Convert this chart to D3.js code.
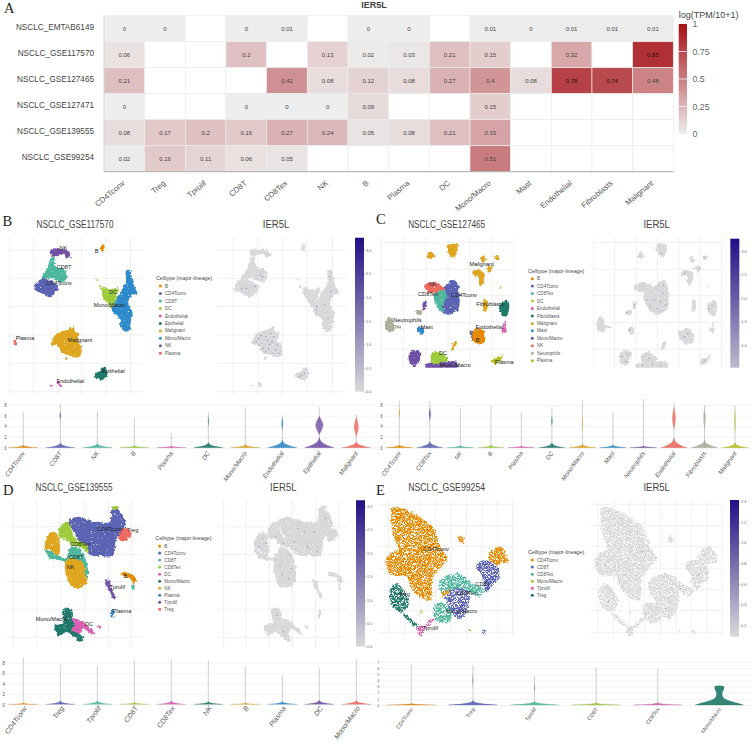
<!DOCTYPE html>
<html><head><meta charset="utf-8">
<script src="https://cdn.jsdelivr.net/npm/d3@7"></script>
<style>html,body{margin:0;padding:0;background:#fff}svg{display:block}text{font-family:"Liberation Sans",Arial,sans-serif}</style>
</head><body><svg id="c" width="753" height="742"></svg>
<script>
// ---------- Panel A: heatmap ----------
const heatCols=["CD4Tconv","Treg","Tprolif","CD8T","CD8Tex","NK","B","Plasma","DC","Mono/Macro","Mast","Endothelial","Fibroblasts","Malignant"];
const heatRows=["NSCLC_EMTAB6149","NSCLC_GSE117570","NSCLC_GSE127465","NSCLC_GSE127471","NSCLC_GSE139555","NSCLC_GSE99254"];
const heatEMTAB=[0,0,null,0,0.01,null,0,0,null,0.01,0,0.01,0.01,0.01];
const heat117570=[0.06,null,null,0.2,null,0.13,0.02,0.03,0.21,0.15,null,0.32,null,0.85];
const heat127465=[0.21,null,null,null,0.42,0.08,0.12,0.08,0.27,0.4,0.08,0.78,0.74,0.48];
const heat127471=[0,null,null,0,0,0,0.09,null,null,0.15,null,null,null,null];
const heat139555=[0.08,0.17,0.2,0.16,0.27,0.24,0.05,0.08,0.21,0.33,null,null,null,null];
const heat99254=[0.02,0.16,0.11,0.06,0.05,null,null,null,null,0.51,null,null,null,null];
const heatTicks=[0,0.25,0.5,0.75,1];

// ---------- Shared ----------
const palette=["#E68A00","#5B63B5","#4DB89E","#9CCB3C","#DA5FB3","#1F7A6B","#E0A51E","#2E8BCB","#7350A8","#EE6A60","#A9AD9A","#B5BF1F"];

// ---------- Panel B ----------
const legendB=["B","CD4Tconv","CD8T","DC","Endothelial","Epithelial","Malignant","Mono/Macro","NK","Plasma"];
const umapB=[
["CD8T",[[155,155],[165,160],[165,180],[175,190],[190,190],[200,205],[198,225],[185,232],[165,225],[150,220],[130,225],[125,215],[140,195],[148,170]]],
["NK",[[150,137],[165,130],[180,135],[195,133],[210,145],[212,155],[200,158],[190,150],[178,148],[165,155],[152,150]]],
["CD4Tconv",[[105,240],[125,222],[150,225],[170,240],[178,240],[168,262],[150,277],[125,265],[105,255]]],
["B",[[303,120],[310,118],[313,130],[308,140],[302,135]]],
["Mono/Macro",[[378,198],[390,195],[395,215],[405,250],[412,265],[395,272],[385,295],[398,325],[392,350],[392,370],[380,380],[362,368],[360,340],[340,325],[335,305],[345,290],[365,255],[378,230]]],
["DC",[[310,245],[330,255],[355,250],[350,275],[335,310],[320,290],[308,275]]],
["DC",[[290,220],[294,220],[294,226],[290,226]]],
["DC",[[297,241],[303,241],[304,249],[298,249]]],
["Malignant",[[165,390],[180,380],[200,375],[215,365],[222,362],[225,380],[235,385],[232,405],[245,430],[243,450],[230,458],[210,450],[190,445],[170,420],[155,420]]],
["Malignant",[[195,456],[201,456],[200,463],[195,463]]],
["Plasma",[[41,407],[47,405],[50,420],[45,423],[41,415]]],
["Epithelial",[[285,505],[300,500],[305,488],[318,490],[322,510],[310,525],[295,522],[283,515]]],
["Endothelial",[[172,530],[178,532],[187,545],[180,545]]],
["Endothelial",[[148,540],[158,540],[155,546],[150,546]]]];
const labelsB=[["NK",190,130],["B",290,137],["CD8T",192,187],["CD4Tconv",177,233],["Mono/Macro",328,300],["DC",340,260],["Plasma",75,400],["Malignant",240,406],["Epithelial",340,497],["Endothelial",211,529]];
const gridXB=[28,100,173,245,318,392], gridYB=[135,220,305,390,475,560];
const spotsB=[[175,400],[185,415],[195,395],[205,430],[215,410],[225,435],[190,430],[210,385],[178,420],[235,445],[200,405],[220,395],[168,410],[230,420],[215,445],[195,440],[182,392],[208,418],[345,305],[380,340],[388,260],[370,300],[395,350],[345,315],[385,215],[180,210],[187,215],[140,250],[165,245],[125,250],[300,510],[310,505],[295,515]];
const vCatsB=["CD4Tconv","CD8T","NK","B","Plasma","DC","Mono/Macro","Endothelial","Epithelial","Malignant"];
const vMaxB=[6.75,8.2,6.9,5.7,2.7,6.75,7.6,6,7.6,6.25];
const vHumpB=[0.35,0.7,0.6,0.3,0.25,0.75,0.45,1.1,1.5,0.9];
const vBulgeB=[null,[6,2.5,0.8],null,null,null,[5,1.5,1],null,[4.5,2.5,1.4],[4.2,13,1.8],[3.9,8,1.9]];
const vTicksB=[0,2,4,6,8];
const cbTicksB=[0,0.5,1,1.5,2,2.5,3];

// ---------- Panel C ----------
const legendC=["B","CD4Tconv","CD8Tex","DC","Endothelial","Fibroblasts","Malignant","Mast","Mono/Macro","NK","Neutrophils","Plasma"];
const umapC=[
["Malignant",[[213,120],[228,117],[245,120],[243,145],[230,157],[218,145]]],
["Malignant",[[153,150],[165,140],[178,155],[165,158],[153,158]]],
["Malignant",[[316,158],[325,153],[330,170],[318,172]]],
["Malignant",[[355,158],[365,152],[372,160],[360,165]]],
["Malignant",[[335,185],[350,183],[345,200],[335,198]]],
["Malignant",[[290,198],[305,195],[325,205],[318,240],[308,240],[308,215],[292,212]]],
["Malignant",[[372,245],[378,245],[378,251],[372,250]]],
["Malignant",[[325,280],[335,300],[330,320],[322,318],[322,295]]],
["Malignant",[[226,425],[240,408],[243,412],[232,436]]],
["NK",[[145,240],[170,232],[195,240],[208,255],[185,262],[160,262],[143,250]]],
["CD8Tex",[[175,265],[205,255],[220,265],[205,300],[205,325],[190,315],[178,295]]],
["CD4Tconv",[[205,250],[232,225],[245,235],[250,270],[248,310],[225,328],[205,325],[200,300],[215,270]]],
["Neutrophils",[[118,320],[135,313],[135,330],[122,330]]],
["Mono/Macro",[[140,295],[150,285],[148,310],[143,315]]],
["Fibroblasts",[[370,300],[395,287],[400,305],[390,335],[375,325]]],
["Neutrophils",[[28,350],[40,335],[50,345],[55,375],[45,382],[30,372]]],
["Neutrophils",[[55,360],[75,366],[75,370],[55,366]]],
["Mast",[[125,370],[138,365],[145,380],[135,390],[127,382]]],
["CD4Tconv",[[280,378],[292,380],[300,400],[290,405]]],
["B",[[290,380],[305,368],[320,375],[328,400],[320,415],[300,418],[290,400]]],
["Endothelial",[[377,370],[390,368],[392,380],[380,383]]],
["Endothelial",[[386,350],[389,350],[388,370],[386,370]]],
["Mono/Macro",[[100,445],[118,435],[135,445],[130,470],[115,483],[100,470]]],
["Mono/Macro",[[150,478],[190,470],[245,472],[245,492],[150,492]]],
["DC",[[165,450],[190,440],[215,465],[190,475],[170,475]]],
["Plasma",[[350,462],[368,458],[382,445],[375,465],[358,478],[349,475]]]];
const labelsC=[["Malignant",317,177],["NK",170,236],["CD8Tex",156,268],["CD4Tconv",264,269],["Fibroblasts",342,296],["Neutrophils",94,344],["Mast",152,365],["Endothelial",340,365],["B",305,405],["DC",201,443],["Mono/Macro",238,480],["Plasma",385,470]];
const gridXC=[17,83,150,216,282,348,414], gridYC=[112,193,272,352,432];
const spotsC=[[205,285],[225,290],[232,265],[215,310],[240,300],[180,285],[195,300],[235,240],[105,455],[118,470],[122,448],[170,480],[200,478],[225,480],[300,395],[310,385],[375,310],[385,300],[330,190],[345,190],[228,145],[300,205],[360,158],[130,375],[120,322],[145,300],[360,468],[190,460]];
const vCatsC=["CD4Tconv","CD8Tex","NK","B","Plasma","DC","Mono/Macro","Mast","Neutrophils","Endothelial","Fibroblasts","Malignant"];
const vMaxC=[8.8,8.75,7.5,7.75,6.6,7.6,8.9,6.75,9.1,8.5,8,7.9];
const vHumpC=[0.4,0.9,0.3,0.35,0.25,0.7,0.5,0.4,0.25,1.4,1.1,0.7];
const vBulgeC=[[6.5,1.5,1],[6.3,3.5,1.3],null,null,null,[5,2,1],[4.5,1.5,1.5],null,null,[5.5,6,2.2],[5.5,4,2],[5,2,2.5]];
const vTicksC=[0,2,4,6,8];
const cbTicksC=[1,1.5,2,2.5,3];

// ---------- Panel D ----------
const legendD=["B","CD4Tconv","CD8T","CD8Tex","DC","Mono/Macro","NK","Plasma","Tprolif","Treg"];
const umapD=[
["CD4Tconv",[[205,140],[235,125],[270,135],[330,140],[335,100],[355,105],[375,135],[372,170],[350,190],[340,240],[300,243],[270,240],[250,215],[225,180],[215,160]]],
["Treg",[[360,170],[378,160],[395,175],[380,195],[362,198],[357,190]]],
["CD8Tex",[[337,97],[355,93],[358,100],[340,105]]],
["CD8Tex",[[180,155],[205,140],[215,165],[225,190],[260,210],[265,235],[245,220],[215,210],[200,195],[178,185]]],
["CD8T",[[135,222],[150,228],[175,240],[195,250],[215,215],[245,230],[260,260],[262,310],[235,290],[200,260],[175,255],[150,250]]],
["NK",[[135,205],[150,172],[170,175],[180,215],[175,240],[150,225],[135,220]]],
["NK",[[195,260],[210,250],[250,265],[255,300],[262,320],[240,338],[215,335],[203,315]]],
["B",[[362,293],[385,293],[408,310],[400,330],[390,310],[365,300]]],
["CD8T",[[395,330],[403,330],[402,344],[397,342]]],
["Tprolif",[[315,313],[328,317],[335,345],[347,365],[340,372],[330,350],[318,330]]],
["Plasma",[[335,405],[340,405],[340,428],[333,430]]],
["Mono/Macro",[[187,405],[205,398],[218,410],[220,430],[240,440],[222,458],[250,490],[240,500],[215,480],[200,470],[178,482],[165,465],[165,450],[190,440]]],
["DC",[[215,430],[240,435],[260,450],[285,475],[278,478],[250,462],[240,475],[215,465],[225,450]]],
["DC",[[290,452],[305,455],[300,460],[292,458]]]];
const labelsD=[["CD4Tconv",330,162],["Treg",398,165],["CD8Tex",240,207],["CD8T",228,247],["NK",212,276],["B",376,302],["Tprolif",352,337],["Plasma",366,407],["Mono/Macro",154,431],["DC",267,446]];
const gridXD=[40,110,182,253,325,395], gridYD=[155,238,320,403,487];
const spotsD=[[200,185],[225,205],[170,205],[150,215],[200,240],[245,240],[220,300],[240,310],[250,280],[260,200],[300,215],[320,170],[355,130],[270,160],[205,420],[225,470],[290,170],[330,230],[160,190],[215,270]];
const vCatsD=["CD4Tconv","Treg","Tprolif","CD8T","CD8Tex","NK","B","Plasma","DC","Mono/Macro"];
const vMaxD=[9,7.55,7.35,8.4,8.6,8.45,7.4,5.6,7,8.6];
const vHumpD=[0.2,0.5,0.5,0.3,0.5,0.4,0.2,0.4,0.6,0.55];
const vBulgeD=[null,null,null,null,null,null,null,null,null,null];
const vTicksD=[0,2,4,6,8];
const cbTicksD=[0,0.5,1,1.5,2,2.5,3];

// ---------- Panel E ----------
const legendE=["CD4Tconv","CD8T","CD8Tex","Mono/Macro","Tprolif","Treg"];
const umapE=[
["CD4Tconv",[[50,97],[70,97],[105,110],[130,125],[170,155],[185,185],[195,220],[215,250],[190,280],[170,310],[165,375],[135,370],[105,340],[90,305],[45,300],[28,265],[40,235],[65,225],[50,175],[45,130]]],
["CD4Tconv",[[340,235],[375,215],[390,235],[395,262],[375,265],[365,270],[340,255]]],
["CD4Tconv",[[248,185],[260,183],[265,205],[255,207]]],
["CD8T",[[305,262],[330,255],[365,275],[370,310],[350,330],[335,350],[325,340],[315,295],[300,280]]],
["CD8Tex",[[190,320],[245,295],[290,325],[325,345],[310,365],[280,350],[225,345],[195,350]]],
["CD8T",[[210,355],[250,340],[280,355],[265,425],[245,432],[225,410],[210,380]]],
["CD8Tex",[[175,390],[210,385],[225,410],[225,435],[195,445],[175,425]]],
["CD4Tconv",[[195,355],[220,345],[215,360],[200,365]]],
["Treg",[[42,345],[60,325],[90,355],[100,385],[75,412],[50,395],[42,375]]],
["Treg",[[80,418],[84,416],[132,458],[128,462]]],
["Tprolif",[[125,460],[140,450],[145,465],[135,485],[125,478]]],
["Tprolif",[[173,428],[177,432],[140,465],[136,461]]],
["Mono/Macro",[[133,407],[139,407],[138,415],[133,415]]],
["Mono/Macro",[[279,466],[285,466],[285,471],[279,471]]],
["CD8T",[[319,465],[328,466],[328,477],[320,476]]]];
const labelsE=[["CD4Tconv",180,221],["CD8T",320,328],["CD8Tex",272,353],["Mono/Macro",257,407],["Treg",85,357],["Tprolif",163,458]];
const gridXE=[38,85,132,178,225,272,318,365,410], gridYE=[88,152,215,280,343,406,472];
const spotsE=[[250,370],[120,300],[60,270],[170,230],[90,150],[70,380],[240,400],[340,300],[200,420],[285,340]];
const vCatsE=["CD4Tconv","Treg","Tprolif","CD8T","CD8Tex","Mono/Macro"];
const vMaxE=[6.6,6.5,4.6,6.1,5.9,3.1];
const vHumpE=[0.2,0.55,0.45,0.3,0.3,0.9];
const vBulgeE=[null,[4,1.2,1.2],[2.8,2,0.7],null,null,null];
const vProfileEMono=[[0,73],[0.3,55],[0.7,28],[1.1,12],[1.6,8],[2.1,9],[2.6,14],[3.1,16],[3.15,0]];
const vTicksE=[0,1,2,3,4,5,6,7];
const cbTicksE=[0.2,0.4,0.6,0.8,1,1.2,1.4];

const svg=d3.select("#c");
const defs=svg.append("defs");
function grainFilter(id,k,c,freq,blur){
  const f=defs.append("filter").attr("id",id).attr("x","-5%").attr("y","-5%").attr("width","110%").attr("height","110%")
    .attr("color-interpolation-filters","sRGB");
  f.append("feTurbulence").attr("type","fractalNoise").attr("baseFrequency",0.35).attr("numOctaves",2).attr("seed",3).attr("result","n");
  f.append("feDisplacementMap").attr("in","SourceGraphic").attr("in2","n").attr("scale",4).attr("xChannelSelector","R").attr("yChannelSelector","G").attr("result","d");
  f.append("feTurbulence").attr("type","fractalNoise").attr("baseFrequency",freq).attr("numOctaves",1).attr("seed",8).attr("result","m");
  f.append("feColorMatrix").attr("in","m").attr("type","matrix").attr("values",`0 0 0 0 0 0 0 0 0 0 0 0 0 0 0 0 0 0 ${k} ${c}`).attr("result","t");
  f.append("feComposite").attr("in","d").attr("in2","t").attr("operator","in").attr("result","o");
  f.append("feGaussianBlur").attr("in","o").attr("stdDeviation",blur);
}
grainFilter("grain",10,-2.2,1.3,0.3);
grainFilter("grainSparse",7,-2.6,1.9,0.35);
grainFilter("grainFeature",6,-1.2,1.3,0.35);
grainFilter("grainFeatureSparse",5,-1.7,1.9,0.4);

// ---------- Heatmap drawing ----------
const heatVals=[heatEMTAB,heat117570,heat127465,heat127471,heat139555,heat99254];
const hx=d3.scaleBand().domain(heatCols).range([104,673.3]);
const hy=d3.scaleBand().domain(heatRows).range([15.7,171.7]);
const hc=d3.scaleLinear().domain([0,1]).range(["#eeeeee","#a50f15"]);
const hA=svg.append("g");
hA.append("text").attr("x",4).attr("y",13).text("A").attr("font-size",14.5).style("font-family","'Liberation Serif',serif").attr("fill","#222");
hA.append("text").attr("x",374).attr("y",8).attr("text-anchor","middle").attr("font-size",9).attr("font-weight","bold").attr("fill","#444").text("IER5L");
heatRows.forEach((r,i)=>heatCols.forEach((c,j)=>{
  const v=heatVals[i][j];
  hA.append("rect").attr("x",hx(c)).attr("y",hy(r)).attr("width",hx.bandwidth()).attr("height",hy.bandwidth())
    .attr("fill",v===null?"#fff":hc(v)).attr("stroke","#ececec").attr("stroke-width",0.7);
  if(v!==null) hA.append("text").attr("x",hx(c)+hx.bandwidth()/2).attr("y",hy(r)+hy.bandwidth()/2+2.2).attr("text-anchor","middle")
    .attr("font-size",6).attr("fill",v>0.6?"#2a1012":"#444").text(v);
}));
hA.append("line").attr("x1",104).attr("x2",673.3).attr("y1",171.7).attr("y2",171.7).attr("stroke","#999").attr("stroke-width",0.8);
hA.append("line").attr("x1",104).attr("x2",104).attr("y1",15.7).attr("y2",171.7).attr("stroke","#ccc").attr("stroke-width",0.7);
heatRows.forEach(r=>hA.append("text").attr("x",94).attr("y",hy(r)+hy.bandwidth()/2+1.5).attr("text-anchor","end").attr("font-size",8.2).attr("fill","#444").text(r));
heatCols.forEach(c=>{const x=hx(c)+hx.bandwidth()/2+1;
  hA.append("text").attr("transform",`translate(${x},184) rotate(-40)`).attr("text-anchor","end").attr("font-size",7.8).attr("fill","#555").text(c);});
const hcbY=d3.scaleLinear().domain([0,1]).range([134,24]);
const gradH=defs.append("linearGradient").attr("id","gh").attr("x1",0).attr("x2",0).attr("y1",1).attr("y2",0);
gradH.append("stop").attr("offset",0).attr("stop-color",hc(0));gradH.append("stop").attr("offset",1).attr("stop-color",hc(1));
hA.append("rect").attr("x",678.7).attr("y",24).attr("width",8.3).attr("height",110).attr("fill","url(#gh)").attr("rx",1);
hA.append("text").attr("x",678.7).attr("y",18).attr("font-size",9).attr("fill","#444").text("log(TPM/10+1)");
const hAxis=hA.append("g").attr("transform","translate(687,0)").call(d3.axisRight(hcbY).tickValues(heatTicks).tickSize(0).tickPadding(5.5).tickFormat(String));
hAxis.select(".domain").remove();
hAxis.selectAll("text").attr("font-size",8.8).attr("fill","#666");
heatTicks.slice(1,4).forEach(t=>hA.append("line").attr("x1",678.7).attr("x2",687).attr("y1",hcbY(t)).attr("y2",hcbY(t)).attr("stroke","#fff").attr("stroke-width",0.7));

// ---------- UMAP + violin panels ----------
const blob=d3.line().curve(d3.curveCatmullRomClosed.alpha(0.5));
function panel(p){
  const xL=d3.scaleLinear().domain([0,1128]).range([p.ox,p.ox+376]);
  const xR=d3.scaleLinear().domain([0,1128]).range([p.ox+p.c/3,p.ox+(p.s*1128+p.c)/3]);
  const y=d3.scaleLinear().domain([0,780]).range([p.oy,p.oy+260]);
  const g=svg.append("g");
  const colorOf=t=>palette[p.legend.indexOf(t)];
  g.append("text").attr("x",p.letter[0]).attr("y",p.letter[1]).text(p.name).attr("font-size",14.5).style("font-family","'Liberation Serif',serif").attr("fill","#222");
  g.append("text").attr("x",xL(p.t1)).attr("y",p.titleY).attr("text-anchor","middle").attr("font-size",10).attr("fill","#444")
    .attr("textLength",77).attr("lengthAdjust","spacingAndGlyphs").text(p.title);
  g.append("text").attr("x",xL(p.t2)).attr("y",p.titleY).attr("text-anchor","middle").attr("font-size",10.5).attr("fill","#444")
    .attr("textLength",26.5).attr("lengthAdjust","spacingAndGlyphs").text("IER5L");
  const clipL=p.name+"L", clipR=p.name+"R";
  defs.append("clipPath").attr("id",clipL).append("rect").attr("x",xL(p.lx[0])).attr("y",y(p.py[0])).attr("width",xL(p.lx[1])-xL(p.lx[0])).attr("height",y(p.py[1])-y(p.py[0]));
  defs.append("clipPath").attr("id",clipR).append("rect").attr("x",xL(p.rx[0])).attr("y",y(p.py[0])).attr("width",xL(p.rx[1])-xL(p.rx[0])).attr("height",y(p.py[1])-y(p.py[0]));
  [[clipL,xL,false],[clipR,xR,true]].forEach(([cid,xs,feature])=>{
    const pg=g.append("g").attr("clip-path",`url(#${cid})`);
    p.gridX.forEach(v=>pg.append("line").attr("x1",xs(v)).attr("x2",xs(v)).attr("y1",y(p.py[0])).attr("y2",y(p.py[1])).attr("stroke","#ececec").attr("stroke-width",0.8));
    p.gridY.forEach(v=>pg.append("line").attr("x1",0).attr("x2",753).attr("y1",y(v)).attr("y2",y(v)).attr("stroke","#ececec").attr("stroke-width",0.8));
    const shapes=pg.append("g").attr("filter",`url(#${feature?p.grainF:p.grain})`);
    p.umap.forEach(([t,pts])=>shapes.append("path").attr("d",blob(pts.map(d=>[xs(d[0]),y(d[1])])))
      .attr("fill",feature?"#d8d8da":colorOf(t)));
    if(feature){
      pg.selectAll("circle").data(p.spots).join("circle").attr("cx",d=>xs(d[0])).attr("cy",d=>y(d[1])).attr("r",0.55).attr("fill","#5a4ea3").attr("opacity",0.75);
    } else {
      p.labels.forEach(([t,a,b])=>g.append("text").attr("x",xs(a)).attr("y",y(b)+2).attr("text-anchor","middle").attr("font-size",5.6).attr("fill","#222").text(t));
    }
  });
  // legend
  g.append("text").attr("x",xL(p.legX)).attr("y",y(p.legY)+1.8).attr("font-size",5.3).attr("fill","#444").text("Celltype (major-lineage)");
  const legY=d3.scalePoint().domain(p.legend).range([p.leg0,p.leg1]);
  p.legend.forEach((t,i)=>{
    g.append("circle").attr("cx",xL(p.legX+13)).attr("cy",y(legY(t))).attr("r",1.5).attr("fill",palette[i]);
    g.append("text").attr("x",xL(p.legX+27)).attr("y",y(legY(t))+1.6).attr("font-size",4.6).attr("fill","#555").text(t);
  });
  // colour bar
  const cb=d3.scaleLinear().domain(p.cbDom).range(p.cbRange.map(y));
  const gid="cb"+p.name;
  const gr=defs.append("linearGradient").attr("id",gid).attr("gradientUnits","userSpaceOnUse").attr("x1",0).attr("x2",0).attr("y1",cb(p.cbLow)).attr("y2",cb(p.cbHigh));
  gr.append("stop").attr("offset",0).attr("stop-color","#d9d9d9");gr.append("stop").attr("offset",1).attr("stop-color","#1f0f85");
  const cbBottom=Math.min(cb(p.cbLow),y(p.py[1]));
  g.append("rect").attr("x",xL(p.cbX)).attr("y",cb(p.cbHigh)).attr("width",9).attr("height",cbBottom-cb(p.cbHigh)).attr("fill",`url(#${gid})`);
  const ax=g.append("g").attr("transform",`translate(${xL(p.cbX)+9},0)`).call(d3.axisRight(cb).tickValues(p.cbTicks).tickSize(1).tickPadding(1).tickFormat(d3.format(".1f")));
  ax.select(".domain").remove();
  ax.selectAll("line").attr("stroke","#bbb");
  ax.selectAll("text").attr("font-size",3.9).attr("fill","#666");
  // violins
  const vy=d3.scaleLinear().domain(p.vDom).range(p.vRange.map(y));
  const yAxis=g.append("g").attr("transform",`translate(${xL(p.vLeft)},0)`).call(d3.axisLeft(vy).tickValues(p.vTicks).tickSize(-(p.ox+376-xL(p.vLeft))).tickPadding(1.5).tickFormat(String));
  yAxis.select(".domain").remove();
  yAxis.selectAll("line").attr("stroke","#eeeeee").attr("stroke-width",0.7);
  yAxis.selectAll("text").attr("font-size",p.vAxisFont).attr("fill","#666");
  const vx=d3.scalePoint().domain(p.vCats).range(p.vCx.map(xL));
  const wScale=v=>xL(v)-xL(0);
  const area=d3.area().curve(d3.curveBasis).y(d=>vy(d[0]));
  p.vCats.forEach((cat,i)=>{
    const cx=vx(cat), h=p.vHump[i], hw=p.vHw;
    const bulge=p.vBulge[i];
    let prof=[[0,hw],[h*0.25,hw*0.55],[h*0.6,hw*0.18],[h,1.2],[h*1.3,0.5]];
    if(p.vProfile&&p.vProfile[cat]) prof=p.vProfile[cat].slice();
    g.append("line").attr("x1",cx).attr("x2",cx).attr("y1",vy(0)).attr("y2",vy(p.vMax[i])).attr("stroke","#b0b0b0").attr("stroke-width",0.6);
    if(bulge){
      const [at,bw,sp]=bulge;
      g.append("path").attr("d",area.x0(d=>cx-wScale(d[1])).x1(d=>cx+wScale(d[1]))([[at-sp,0],[at-sp*0.4,bw*0.7],[at,bw],[at+sp*0.4,bw*0.7],[at+sp,0]]))
        .attr("fill",palette[i]).attr("opacity",0.8);
    }
    g.append("path").attr("d",area.x0(d=>cx-wScale(d[1])).x1(d=>cx+wScale(d[1]))(prof)).attr("fill",palette[i]).attr("opacity",0.9).attr("stroke",d3.color(palette[i]).darker(0.6)).attr("stroke-width",0.25);
    g.append("text").attr("transform",`translate(${cx+p.vLabDx},${y(p.vLabY)}) rotate(-54)`).attr("text-anchor","end").attr("font-size",p.vFont)
      .attr("font-style",p.vItalic?"italic":"normal").attr("fill","#555").text(cat);
  });
}
panel({name:"B",ox:0,oy:205,letter:[2.5,225.5],title:"NSCLC_GSE117570",t1:225,t2:828,titleY:228,
  s:1.02,c:597,lx:[27,430],rx:[650,1040],py:[95,570],grain:"grain",grainF:"grainFeature",umap:umapB,legend:legendB,labels:labelsB,gridX:gridXB,gridY:gridYB,spots:spotsB,
  legX:468,legY:220,leg0:243,leg1:445,cbX:1065,cbDom:[0,3],cbRange:[560,135],cbLow:0,cbHigh:3.26,cbTicks:cbTicksB,
  vDom:[0,8],vRange:[728,600],vTicks:vTicksB,vLeft:25,vAxisFont:4.6,vCats:vCatsB,vCx:[70,1069],vHw:44,vMax:vMaxB,vHump:vHumpB,vBulge:vBulgeB,vFont:6.4,vItalic:true,vLabDx:2,vLabY:745});
panel({name:"C",ox:376,oy:205,letter:[376,224],title:"NSCLC_GSE127465",t1:212,t2:842,titleY:228,
  s:0.97,c:635,lx:[10,415],rx:[650,1040],py:[95,488],grain:"grain",grainF:"grainFeature",umap:umapC,legend:legendC,labels:labelsC,gridX:gridXC,gridY:gridYC,spots:spotsC,
  legX:456,legY:198,leg0:221,leg1:467,cbX:1063,cbDom:[0.5,3],cbRange:[490,139],cbLow:0,cbHigh:3.27,cbTicks:cbTicksC,
  vDom:[0,8],vRange:[728,600],vTicks:vTicksC,vLeft:25,vAxisFont:4.6,vCats:vCatsC,vCx:[70,1077],vHw:40,vMax:vMaxC,vHump:vHumpC,vBulge:vBulgeC,vFont:6.2,vItalic:true,vLabDx:2,vLabY:745});
panel({name:"D",ox:0,oy:475,letter:[3,495],title:"NSCLC_GSE139555",t1:222,t2:850,titleY:491,
  s:0.97,c:632,lx:[20,428],rx:[655,1045],py:[75,520],grain:"grain",grainF:"grainFeature",umap:umapD,legend:legendD,labels:labelsD,gridX:gridXD,gridY:gridYD,spots:spotsD,
  legX:466,legY:190,leg0:213,leg1:403,cbX:1068,cbDom:[0,3],cbRange:[515,94],cbLow:0,cbHigh:3.13,cbTicks:cbTicksD,
  vDom:[0,8],vRange:[688,563],vTicks:vTicksD,vLeft:20,vAxisFont:5.2,vCats:vCatsD,vCx:[70,1069],vHw:44,vMax:vMaxD,vHump:vHumpD,vBulge:vBulgeD,vFont:7,vItalic:true,vLabDx:4,vLabY:700});
panel({name:"E",ox:376,oy:475,letter:[376,495],title:"NSCLC_GSE99254",t1:212,t2:842,titleY:491,
  s:1,c:628,lx:[10,415],rx:[645,1040],py:[75,485],grain:"grainSparse",grainF:"grainFeatureSparse",umap:umapE,legend:legendE,labels:labelsE,gridX:gridXE,gridY:gridYE,spots:spotsE,
  legX:456,legY:233,leg0:255,leg1:361,cbX:1062,cbDom:[0.2,1.4],cbRange:[451,79],cbLow:0.09,cbHigh:1.413,cbTicks:cbTicksE,
  vDom:[0,7],vRange:[690,561],vTicks:vTicksE,vLeft:15,vAxisFont:3.9,vCats:vCatsE,vCx:[106,1030],vHw:73,vMax:vMaxE,vHump:vHumpE,vBulge:vBulgeE,vProfile:{"Mono/Macro":vProfileEMono},vFont:5.4,vItalic:false,vLabDx:2,vLabY:703});
</script></body></html>
